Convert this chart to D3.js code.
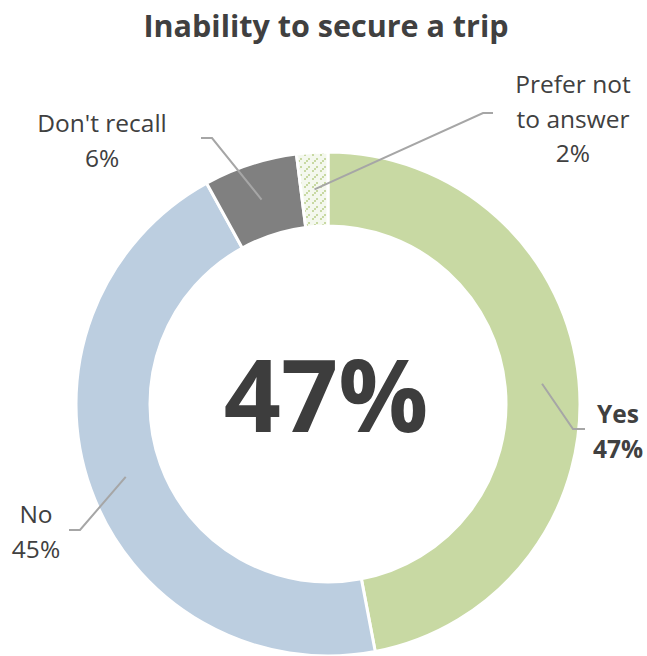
<!DOCTYPE html>
<html>
<head>
<meta charset="utf-8">
<script src="https://cdn.jsdelivr.net/npm/d3@7"></script>
<style>
  html, body { margin: 0; padding: 0; background: #fff; }
  svg { display: block; font-family: "Open Sans", sans-serif; }
</style>
</head>
<body>
<svg id="chart" width="647" height="656"></svg>
<script>
// Survey responses: inability to secure a trip
const categories = ["Yes", "No", "Don't recall", "Prefer not to answer"];
const values = [47, 45, 6, 2];
const labelLines = [["Yes"], ["No"], ["Don't recall"], ["Prefer not", "to answer"]];
const headline = "47%";
const title = "Inability to secure a trip";

const svg = d3.select("#chart");
const cx = 328, cy = 404;
const outerR = 252, innerR = 178;
const textColor = "#404040";

const color = d3.scaleOrdinal()
  .domain(categories)
  .range(["#c8d9a3", "#bccee0", "#808080", "url(#dashUp)"]);

// Dashed upward-diagonal fill for the smallest slice
const defs = svg.append("defs");
const pat = defs.append("pattern")
  .attr("id", "dashUp")
  .attr("patternUnits", "userSpaceOnUse")
  .attr("width", 8).attr("height", 8);
pat.append("rect").attr("width", 8).attr("height", 8).attr("fill", "#f4f8ee");
[[0, 6], [2, 4], [4, 2]].forEach(([x, y]) => {
  pat.append("rect").attr("x", x).attr("y", y).attr("width", 2).attr("height", 2).attr("fill", "#c8d9a3");
});

// Title
svg.append("text")
  .attr("x", cx - 2).attr("y", 37)
  .attr("text-anchor", "middle")
  .attr("font-size", 30.5).attr("font-weight", 700)
  .attr("fill", textColor)
  .text(title);

const pie = d3.pie().sort(null).value(d => d.value);
const data = categories.map((c, i) => ({ cat: c, value: values[i], lines: labelLines[i] }));
const arcs = pie(data);
const arc = d3.arc().innerRadius(innerR).outerRadius(outerR);

const g = svg.append("g").attr("transform", `translate(${cx},${cy})`);

g.selectAll("path.slice")
  .data(arcs)
  .join("path")
  .attr("class", "slice")
  .attr("d", arc)
  .attr("fill", d => color(d.data.cat))
  .attr("stroke", "#fff")
  .attr("stroke-width", 3);

// Centre figure
g.append("text")
  .attr("x", -2).attr("y", 28)
  .attr("text-anchor", "middle")
  .attr("font-size", 100).attr("font-weight", 700)
  .attr("fill", "#3d3d3d")
  .text(headline);

// Leader-line elbows and label anchors, relative to the centre
const labelLayout = [
  { elbow: [245, 25], end: [257, 25], text: [290, 19], bold: true },
  { elbow: [-248, 126], end: [-259, 126], text: [-292, 119], bold: false },
  { elbow: [-116, -266], end: [-127, -266], text: [-226, -272], bold: false },
  { elbow: [155, -291], end: [165, -291], text: [245, -311], bold: false }
];

const lineH = 34.5;
arcs.forEach((a, i) => {
  const L = labelLayout[i];
  const [sx, sy] = arc.centroid(a);
  g.append("path")
    .attr("d", d3.line()([[sx, sy], L.elbow, L.end]))
    .attr("fill", "none")
    .attr("stroke", "#a6a6a6")
    .attr("stroke-width", 2);

  const lines = a.data.lines.concat([`${a.data.value}%`]);
  const t = g.append("text")
    .attr("text-anchor", "middle")
    .attr("font-size", 24.5)
    .attr("font-weight", L.bold ? 700 : 400)
    .attr("fill", textColor);
  lines.forEach((s, k) => {
    t.append("tspan")
      .attr("x", L.text[0])
      .attr("y", L.text[1] + k * lineH)
      .text(s);
  });
});
</script>
</body>
</html>
